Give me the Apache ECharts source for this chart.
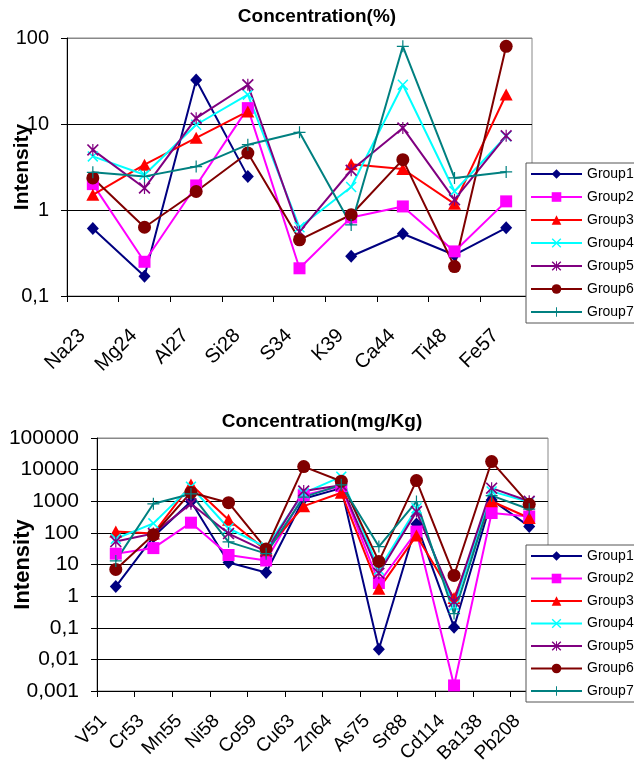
<!DOCTYPE html>
<html>
<head>
<meta charset="utf-8">
<script src="https://cdn.jsdelivr.net/npm/echarts@6/dist/echarts.min.js"></script>
<style>
html,body{margin:0;padding:0;background:#fff;}
#chart{width:634px;height:774px;}
</style>
</head>
<body>
<div id="chart"></div>
<script>
// ---------- data ----------
var groupNames = ['Group1','Group2','Group3','Group4','Group5','Group6','Group7'];

var topTitle = 'Concentration(%)';
var topCategories = ['Na23','Mg24','Al27','Si28','S34','K39','Ca44','Ti48','Fe57'];
var topG1 = [0.61, 0.17, 32.5, 2.46, null, 0.29, 0.53, 0.30, 0.62];
var topG2 = [2.0, 0.25, 1.93, 15.3, 0.21, 0.82, 1.10, 0.33, 1.26];
var topG3 = [1.5, 3.36, 6.9, 14, null, 3.4, 3.0, 1.18, 22];
var topG4 = [4.2, 2.57, 9.8, 21.9, 0.63, 1.85, 28.6, 1.65, 7.2];
var topG5 = [5.0, 1.8, 11.7, 28.6, 0.56, 2.9, 9.0, 1.32, 7.3];
var topG6 = [2.36, 0.63, 1.64, 4.6, 0.45, 0.88, 3.85, 0.22, 80];
var topG7 = [2.74, 2.46, 3.2, 5.75, 8.0, 0.67, 80, 2.36, 2.77];
var topTickLabels = ['0,1','1','10','100'];          // exponents -1..2

var botTitle = 'Concentration(mg/Kg)';
var botCategories = ['V51','Cr53','Mn55','Ni58','Co59','Cu63','Zn64','As75','Sr88','Cd114','Ba138','Pb208'];
var botG1 = [2.0, 75, 980, 11.5, 5.6, 1200, 2600, 0.021, 190, 0.104, 1100, 160];
var botG2 = [22, 33, 210, 20, 13.4, 1550, 3000, 2.6, 110, 0.0015, 425, 330];
var botG3 = [110, 95, 3400, 260, 28, 700, 1850, 1.7, 82, 0.87, 1000, 295];
var botG4 = [65, 200, 2900, 140, 35, 1800, 6000, 6.8, 600, 0.5, 2050, 950];
var botG5 = [53, 95, 830, 95, 26, 2100, 3200, 5.3, 470, 0.68, 2600, 1000];
var botG6 = [7.0, 87, 1900, 900, 31, 12500, 4300, 12.5, 4500, 4.5, 18000, 800];
var botG7 = [13, 830, 1700, 52, 22, 1350, 3300, 37, 980, 0.28, 1500, 560];
var botTickLabels = ['0,001','0,01','0,1','1','10','100','1000','10000','100000']; // exponents -3..5

var yName = 'Intensity';

// ---------- styles ----------
var FONT = '"Liberation Sans", Arial, sans-serif';
var colors = ['#000080','#FF00FF','#FF0000','#00FFFF','#800080','#800000','#008080'];
var X_PATH = 'path://M0,2 L2,0 L10,8 L18,0 L20,2 L12,10 L20,18 L18,20 L10,12 L2,20 L0,18 L8,10 Z';
var STAR_PATH = 'path://M0,2 L2,0 L10,8 L18,0 L20,2 L12,10 L20,18 L18,20 L10,12 L2,20 L0,18 L8,10 Z M9,0 L11,0 L11,20 L9,20 Z';
var PLUS_PATH = 'path://M9,0 L11,0 L11,9 L20,9 L20,11 L11,11 L11,20 L9,20 L9,11 L0,11 L0,9 L9,9 Z';
var symbols = ['diamond','rect','triangle',X_PATH,STAR_PATH,'circle',PLUS_PATH];
var symbolSizes = [[12,13],12,[13,12],11,12,13,12];

var topData = [topG1,topG2,topG3,topG4,topG5,topG6,topG7];
var botData = [botG1,botG2,botG3,botG4,botG5,botG6,botG7];

function mkSeries(idx, data, axisIdx){
  return {
    type:'line', name: groupNames[idx], data: data,
    xAxisIndex: axisIdx, yAxisIndex: axisIdx,
    symbol: symbols[idx], symbolSize: symbolSizes[idx], showAllSymbol: true,
    lineStyle:{color: colors[idx], width: 2},
    itemStyle:{color: colors[idx], borderWidth: 0, opacity: 1},
    emphasis:{disabled:true}, connectNulls:false, animation:false
  };
}
var series = [];
for (var i=0;i<7;i++) series.push(mkSeries(i, topData[i], 0));
for (var j=0;j<7;j++) series.push(mkSeries(j, botData[j], 1));

function logFormatter(labels, minExp){
  return function(v){
    var e = Math.round(Math.log10(v));
    return labels[e - minExp] || '';
  };
}

function xAxisCfg(gridIndex, cats, fontSize, margin, pad){
  return {
    type:'category', gridIndex: gridIndex, data: cats, boundaryGap: true,
    axisLine:{show:true, lineStyle:{color:'#000', width:1}},
    axisTick:{show:true, length:6, lineStyle:{color:'#000'}},
    axisLabel:{rotate:45, interval:0, margin: margin, color:'#000', fontSize:fontSize, fontFamily: FONT, padding: pad, hideOverlap:false},
    splitLine:{show:false}
  };
}
function yAxisCfg(gridIndex, min, max, labels, minExp, splitColors, fontSize, nameSize, nameGap){
  return {
    type:'log', logBase:10, gridIndex: gridIndex, min:min, max:max, interval:1,
    axisLine:{show:true, lineStyle:{color:'#000', width:1}},
    axisTick:{show:true, length:6, lineStyle:{color:'#000'}},
    axisLabel:{color:'#000', fontSize:fontSize, fontFamily: FONT, margin:18, formatter: logFormatter(labels, minExp)},
    splitLine:{show:true, lineStyle:{color: splitColors, width:1}},
    minorTick:{show:false},
    name: yName, nameLocation:'middle', nameRotate:90, nameGap: nameGap, nameMoveOverlap:false,
    nameTextStyle:{color:'#000', fontSize:nameSize, fontWeight:'bold', fontFamily: FONT}
  };
}

function legendCfg(top, gap){
  return {
    orient:'vertical', left:526, top:top,
    data: groupNames.slice(),
    itemWidth:51, itemHeight:12, itemGap:gap,
    padding:[4, 30, 4, 4],
    borderColor:'#555', borderWidth:1, backgroundColor:'#fff',
    selectedMode:false,
    textStyle:{color:'#000', fontSize:14, fontFamily: FONT, lineHeight:14}
  };
}

var chart = echarts.init(document.getElementById('chart'), null, {renderer:'canvas'});
chart.setOption({
  backgroundColor:'#fff',
  animation:false,
  grid:[
    {left:67, top:38, width:465, height:258, show:true, borderColor:'#888', borderWidth:1, backgroundColor:'#fff', containLabel:false, outerBoundsMode:'none'},
    {left:97, top:438, width:451, height:253, show:true, borderColor:'#888', borderWidth:1, backgroundColor:'#fff', containLabel:false, outerBoundsMode:'none'}
  ],
  xAxis:[ xAxisCfg(0, topCategories, 20, 26, [0,15,0,0]), xAxisCfg(1, botCategories, 19, 15, [0,17,0,0]) ],
  yAxis:[
    yAxisCfg(0, 0.1, 100, topTickLabels, -1, ['#000','#000','#000','#888'], 20, 21, 34),
    yAxisCfg(1, 0.001, 100000, botTickLabels, -3, ['#000','#000','#000','#000','#000','#000','#000','#000','#888'], 21, 22, 63)
  ],
  legend:[ legendCfg(163, 9), legendCfg(545, 8.5) ],
  graphic:[
    {type:'text', x:317, y:17, style:{text: topTitle, fontSize:19, fontWeight:'bold', fontFamily: FONT, fill:'#000', align:'center', verticalAlign:'middle'}},
    {type:'text', x:322, y:422, style:{text: botTitle, fontSize:19, fontWeight:'bold', fontFamily: FONT, fill:'#000', align:'center', verticalAlign:'middle'}}
  ],
  series: series
});
</script>
</body>
</html>
